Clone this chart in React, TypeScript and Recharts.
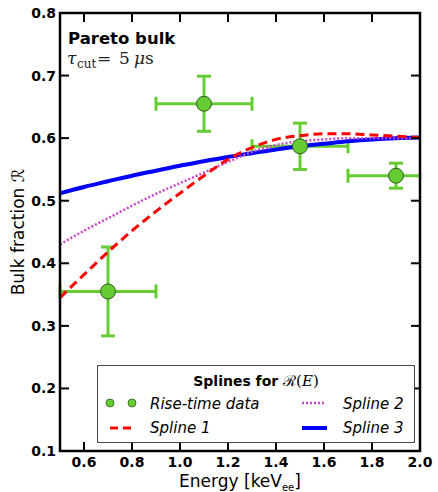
import { ComposedChart, XAxis, YAxis, Line, Scatter, ErrorBar } from "recharts";

const energyGrid = [0.5, 0.6, 0.7, 0.8, 0.9, 1.0, 1.1, 1.2, 1.3, 1.4, 1.5, 1.6, 1.7, 1.8, 1.9, 2.0];
const spline1 = [0.345, 0.382, 0.418, 0.452, 0.483, 0.512, 0.54, 0.566, 0.585, 0.598, 0.604, 0.607, 0.607, 0.605, 0.603, 0.601];
const spline2 = [0.43, 0.452, 0.472, 0.492, 0.511, 0.528, 0.545, 0.562, 0.578, 0.589, 0.595, 0.598, 0.6, 0.6, 0.6, 0.6];
const spline3 = [0.512, 0.522, 0.531, 0.54, 0.548, 0.556, 0.563, 0.57, 0.576, 0.582, 0.587, 0.591, 0.595, 0.598, 0.6, 0.601];

const dataEnergy = [0.7, 1.1, 1.5, 1.9];
const dataFraction = [0.355, 0.655, 0.587, 0.54];
const energyErr = [0.2, 0.2, 0.2, 0.2];
const fractionErr = [0.071, 0.044, 0.037, 0.02];

const xTicks = [0.6, 0.8, 1.0, 1.2, 1.4, 1.6, 1.8, 2.0];
const yTicks = [0.1, 0.2, 0.3, 0.4, 0.5, 0.6, 0.7, 0.8];
const xDomain = [0.5, 2.0];
const yDomain = [0.1, 0.8];

const FONT = "DejaVu Sans";
const GREEN = "#66cc33";

// plot box, set by the chart margins + axis sizes below
const W = 438;
const H = 492;
const PLOT = { left: 60, top: 13, right: 420, bottom: 451 };

const curve = (vals: number[]) => energyGrid.map((x, i) => ({ x, r: vals[i] }));
const points = dataEnergy.map((x, i) => ({
  x,
  y: dataFraction[i],
  xErr: energyErr[i],
  yErr: fractionErr[i],
}));

const sx = (v: number) =>
  PLOT.left + ((v - xDomain[0]) / (xDomain[1] - xDomain[0])) * (PLOT.right - PLOT.left);
const sy = (v: number) =>
  PLOT.bottom - ((v - yDomain[0]) / (yDomain[1] - yDomain[0])) * (PLOT.bottom - PLOT.top);

const Marker = (props: any) => {
  const { cx, cy } = props;
  return <circle cx={cx} cy={cy} r={7.5} fill={GREEN} stroke="#2f5e1c" strokeWidth={1} />;
};

const tickFont = { fontFamily: FONT, fontWeight: "bold", fontSize: 14, fill: "#000" };
const fmt = (v: number) => v.toFixed(1);

export default function App() {
  return (
    <div style={{ position: "absolute", left: 0, top: 0, width: W, height: H }}>
      <ComposedChart
        width={W}
        height={H}
        data={curve(spline3)}
        margin={{ top: PLOT.top, right: W - PLOT.right, left: 0, bottom: 0 }}
      >
        <XAxis
          dataKey="x"
          type="number"
          domain={xDomain}
          ticks={xTicks}
          interval={0}
          allowDataOverflow
          height={H - PLOT.bottom}
          tickSize={-9}
          tickMargin={15}
          tickLine={false}
          tick={tickFont}
          tickFormatter={fmt}
          axisLine={false}
        />
        <YAxis
          type="number"
          domain={yDomain}
          ticks={yTicks}
          interval={0}
          allowDataOverflow
          width={PLOT.left}
          tickSize={-9}
          tickMargin={13}
          tickLine={false}
          tick={tickFont}
          tickFormatter={fmt}
          axisLine={false}
        />
        <Scatter data={points} dataKey="y" shape={() => <g />} isAnimationActive={false}>
          <ErrorBar dataKey="yErr" direction="y" stroke={GREEN} strokeWidth={3} width={7} />
          <ErrorBar dataKey="xErr" direction="x" stroke={GREEN} strokeWidth={3} width={7} />
        </Scatter>
        <Line
          data={curve(spline3)}
          dataKey="r"
          type="monotone"
          stroke="#0000ff"
          strokeWidth={4}
          dot={false}
          isAnimationActive={false}
        />
        <Line
          data={curve(spline2)}
          dataKey="r"
          type="monotone"
          stroke="#cc44cc"
          strokeWidth={2.5}
          strokeDasharray="2 2"
          dot={false}
          isAnimationActive={false}
        />
        <Line
          data={curve(spline1)}
          dataKey="r"
          type="monotone"
          stroke="#ff0000"
          strokeWidth={3}
          strokeDasharray="9 5"
          dot={false}
          isAnimationActive={false}
        />
        <Scatter data={points} dataKey="y" shape={<Marker />} isAnimationActive={false} />
      </ComposedChart>

      <svg
        width={W}
        height={H}
        style={{ position: "absolute", left: 0, top: 0, pointerEvents: "none" }}
      >
        {/* hide the error bar that runs past the right edge */}
        <rect x={PLOT.right + 1.5} y={0} width={W - PLOT.right} height={PLOT.bottom + 4} fill="#fff" />

        {/* frame with inward ticks on all four sides */}
        <rect
          x={PLOT.left}
          y={PLOT.top}
          width={PLOT.right - PLOT.left}
          height={PLOT.bottom - PLOT.top}
          fill="none"
          stroke="#000"
          strokeWidth={2.5}
        />
        {xTicks.map((t) => (
          <g key={`x${t}`}>
            <line x1={sx(t)} x2={sx(t)} y1={PLOT.bottom} y2={PLOT.bottom - 9} stroke="#000" strokeWidth={2} />
            <line x1={sx(t)} x2={sx(t)} y1={PLOT.top} y2={PLOT.top + 9} stroke="#000" strokeWidth={2} />
          </g>
        ))}
        {yTicks.map((t) => (
          <g key={`y${t}`}>
            <line x1={PLOT.left} x2={PLOT.left + 9} y1={sy(t)} y2={sy(t)} stroke="#000" strokeWidth={2} />
            <line x1={PLOT.right} x2={PLOT.right - 9} y1={sy(t)} y2={sy(t)} stroke="#000" strokeWidth={2} />
          </g>
        ))}

        <text x={68} y={44} fontFamily={FONT} fontWeight="bold" fontSize={16.5} fill="#000">
          Pareto bulk
        </text>
        <text y={64} fontFamily="DejaVu Serif" fontSize={17} fill="#222">
          <tspan x={67} fontStyle="italic">τ</tspan>
          <tspan x={77} dy={4} fontSize={12}>cut</tspan>
          <tspan x={97} dy={-4}>=</tspan>
          <tspan x={119}>5</tspan>
          <tspan x={134} fontStyle="italic">μ</tspan>
          <tspan>s</tspan>
        </text>

        <text
          transform="translate(24,232) rotate(-90)"
          textAnchor="middle"
          fontFamily={FONT}
          fontSize={17}
          fill="#000"
        >
          Bulk fraction ℛ
        </text>
        <text x={240} y={487} textAnchor="middle" fontFamily={FONT} fontSize={17} fill="#000">
          Energy [keV<tspan fontSize={10} dy={4}>ee</tspan>
          <tspan dy={-4}>]</tspan>
        </text>

        <rect x={97.5} y={365.5} width={317} height={77} fill="#fff" stroke="#444" strokeWidth={1} />
        <text x={256} y={386} textAnchor="middle" fontFamily={FONT} fontWeight="bold" fontSize={14} fill="#000">
          Splines for{" "}
          <tspan fontFamily="DejaVu Serif" fontWeight="normal" fontSize={15}>
            ℛ(<tspan fontStyle="italic">E</tspan>)
          </tspan>
        </text>
        <circle cx={110} cy={403} r={4} fill={GREEN} stroke="#2f5e1c" strokeWidth={0.8} />
        <circle cx={132} cy={403} r={4} fill={GREEN} stroke="#2f5e1c" strokeWidth={0.8} />
        <text x={150} y={409} fontFamily={FONT} fontStyle="italic" fontSize={15} fill="#000">
          Rise-time data
        </text>
        <line x1={110} x2={132} y1={428} y2={428} stroke="#ff0000" strokeWidth={3} strokeDasharray="8 5" />
        <text x={150} y={433} fontFamily={FONT} fontStyle="italic" fontSize={15} fill="#000">
          Spline 1
        </text>
        <line x1={302} x2={326} y1={403} y2={403} stroke="#cc44cc" strokeWidth={2.5} strokeDasharray="2 2" />
        <text x={343} y={409} fontFamily={FONT} fontStyle="italic" fontSize={15} fill="#000">
          Spline 2
        </text>
        <line x1={302} x2={327} y1={428} y2={428} stroke="#0000ff" strokeWidth={4} />
        <text x={343} y={433} fontFamily={FONT} fontStyle="italic" fontSize={15} fill="#000">
          Spline 3
        </text>
      </svg>
    </div>
  );
}
